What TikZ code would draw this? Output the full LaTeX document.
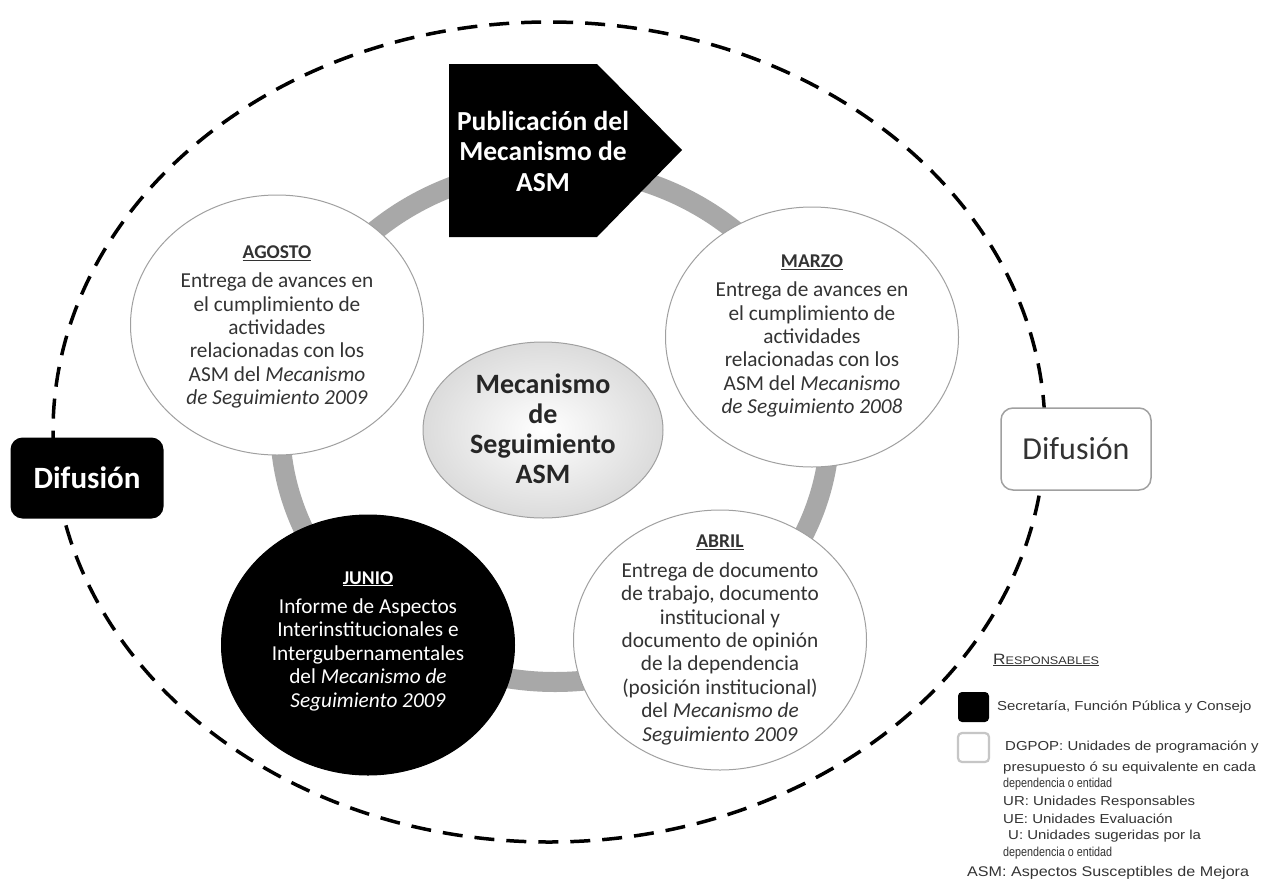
\documentclass[tikz,border=0pt]{standalone}
\usepackage{fontspec}
\usepackage{graphicx}
\setmainfont{Carlito}
\newfontfamily\legendfont[FakeStretch=1.15]{Liberation Sans}
\usetikzlibrary{shapes.geometric}
\definecolor{ringgray}{HTML}{A8A8A8}
\definecolor{edgegray}{HTML}{A0A0A0}
\definecolor{txtgray}{HTML}{333333}
\newcommand\mlab[1]{{\fontsize{19.5}{22}\selectfont\bfseries\underline{#1}}}
\tikzset{
  monthshape/.style={ellipse, minimum width=293pt, minimum height=260pt, inner sep=0pt, draw=edgegray, line width=1pt, fill=white},
  monthtext/.style={align=center, text=txtgray, font=\fontsize{21.3}{23.4}\selectfont, inner sep=0pt},
  dashring/.style={dash pattern=on 20pt off 12pt, line width=3.5pt, line cap=butt},
  ringline/.style={draw=ringgray, line width=20pt},
  legtext/.style={anchor=west, inner sep=0pt, text=txtgray, font=\legendfont\fontsize{13}{15}\selectfont},
}
\begin{document}
\begin{tikzpicture}[x=1pt,y=-1pt]
\useasboundingbox (0,0) rectangle (1264,881);
\fill[white] (0,0) rectangle (1264,881);
% outer dashed ellipse
\draw[dashring] (549,432) ellipse [x radius=496, y radius=410];
% gray ring
\draw[ringline] (555,425) ellipse [x radius=275, y radius=257];
% month circles
\node[monthshape] (agosto) at (277,325) {};
\node[monthtext] (agostotxt) at (277,327) {\mlab{AGOSTO}\\[6pt]
Entrega de avances en\\ el cumplimiento de\\ actividades\\ relacionadas con los\\ ASM del \textit{Mecanismo}\\ \textit{de Seguimiento 2009}};
\node[monthshape] (marzo) at (812,337) {};
\node[monthtext] (marzotxt) at (812,336) {\mlab{MARZO}\\[6pt]
Entrega de avances en\\ el cumplimiento de\\ actividades\\ relacionadas con los\\ ASM del \textit{Mecanismo}\\ \textit{de Seguimiento 2008}};
\node[monthshape] (abril) at (720,640) {};
\node[monthtext] (abriltxt) at (720,640) {\mlab{ABRIL}\\[6pt]
Entrega de documento\\ de trabajo, documento\\ institucional y\\ documento de opinión\\ de la dependencia\\ (posición institucional)\\ del \textit{Mecanismo de}\\ \textit{Seguimiento 2009}};
\node[monthshape, fill=black, draw=black] (junio) at (368,645) {};
\node[monthtext, text=white] (juniotxt) at (368,641) {\mlab{JUNIO}\\[6pt]
Informe de Aspectos\\ Interinstitucionales e\\ Intergubernamentales\\ del \textit{Mecanismo de}\\ \textit{Seguimiento 2009}};
% center ellipse
\node[ellipse, minimum width=240pt, minimum height=176pt, inner sep=0pt, shading=radial, inner color=white, outer color=gray!28, draw=edgegray, line width=1pt] (centro) at (543,430) {};
\node[align=center, inner sep=0pt, text=black!85, font=\fontsize{28}{30}\selectfont\bfseries] (centrotxt) at (543,429) {Mecanismo\\ de\\ Seguimiento\\ ASM};
% publication arrow
\fill[black] (449,64) -- (597,64) -- (682,150) -- (597,237) -- (449,237) -- cycle;
\node[align=center, inner sep=0pt, text=white, font=\fontsize{27.5}{30.5}\selectfont\bfseries] (pub) at (543,151) {Publicación del\\ Mecanismo de\\ ASM};
% Difusion boxes
\node[rounded corners=12pt, fill=black, minimum width=153pt, minimum height=81pt, inner sep=0pt, text=white, font=\fontsize{31}{33}\selectfont\bfseries] (difL) at (87,478) {Difusión};
\node[rounded corners=12pt, fill=white, draw=edgegray, line width=1.5pt, minimum width=150pt, minimum height=82pt, inner sep=0pt, text=black!80, font=\fontsize{32}{34}\selectfont] (difR) at (1076,449) {Difusión};
% legend
\node[anchor=west, inner sep=0pt, text=txtgray, font=\legendfont] (legtitle) at (993,660) {\underline{{\fontsize{15}{16}\selectfont R}{\fontsize{11}{16}\selectfont ESPONSABLES}}};
\node[fill=black, rounded corners=4pt, minimum width=31pt, minimum height=30pt, inner sep=0pt] (sqblack) at (973.5,707) {};
\node[draw=gray!45, line width=2.2pt, rounded corners=4pt, minimum width=31pt, minimum height=29pt, inner sep=0pt] (sqwhite) at (973.5,747.5) {};
\node[legtext] (l1) at (997,707) {Secretaría, Función Pública y Consejo};
\node[legtext] (l2) at (1005,747) {DGPOP: Unidades de programación y};
\node[legtext] (l3) at (1003,768) {presupuesto ó su equivalente en cada};
\node[legtext] (l4) at (1003,784) {\scalebox{0.72}[1]{dependencia o entidad}};
\node[legtext] (l5) at (1003,802) {UR: Unidades Responsables};
\node[legtext] (l6) at (1003,819) {UE: Unidades Evaluación};
\node[legtext] (l7) at (1008,836) {U: Unidades sugeridas por la};
\node[legtext] (l8) at (1003,853) {\scalebox{0.72}[1]{dependencia o entidad}};
\node[legtext, font=\legendfont\fontsize{14}{15}\selectfont] (l9) at (967,873) {ASM: Aspectos Susceptibles de Mejora};
\end{tikzpicture}
\end{document}
